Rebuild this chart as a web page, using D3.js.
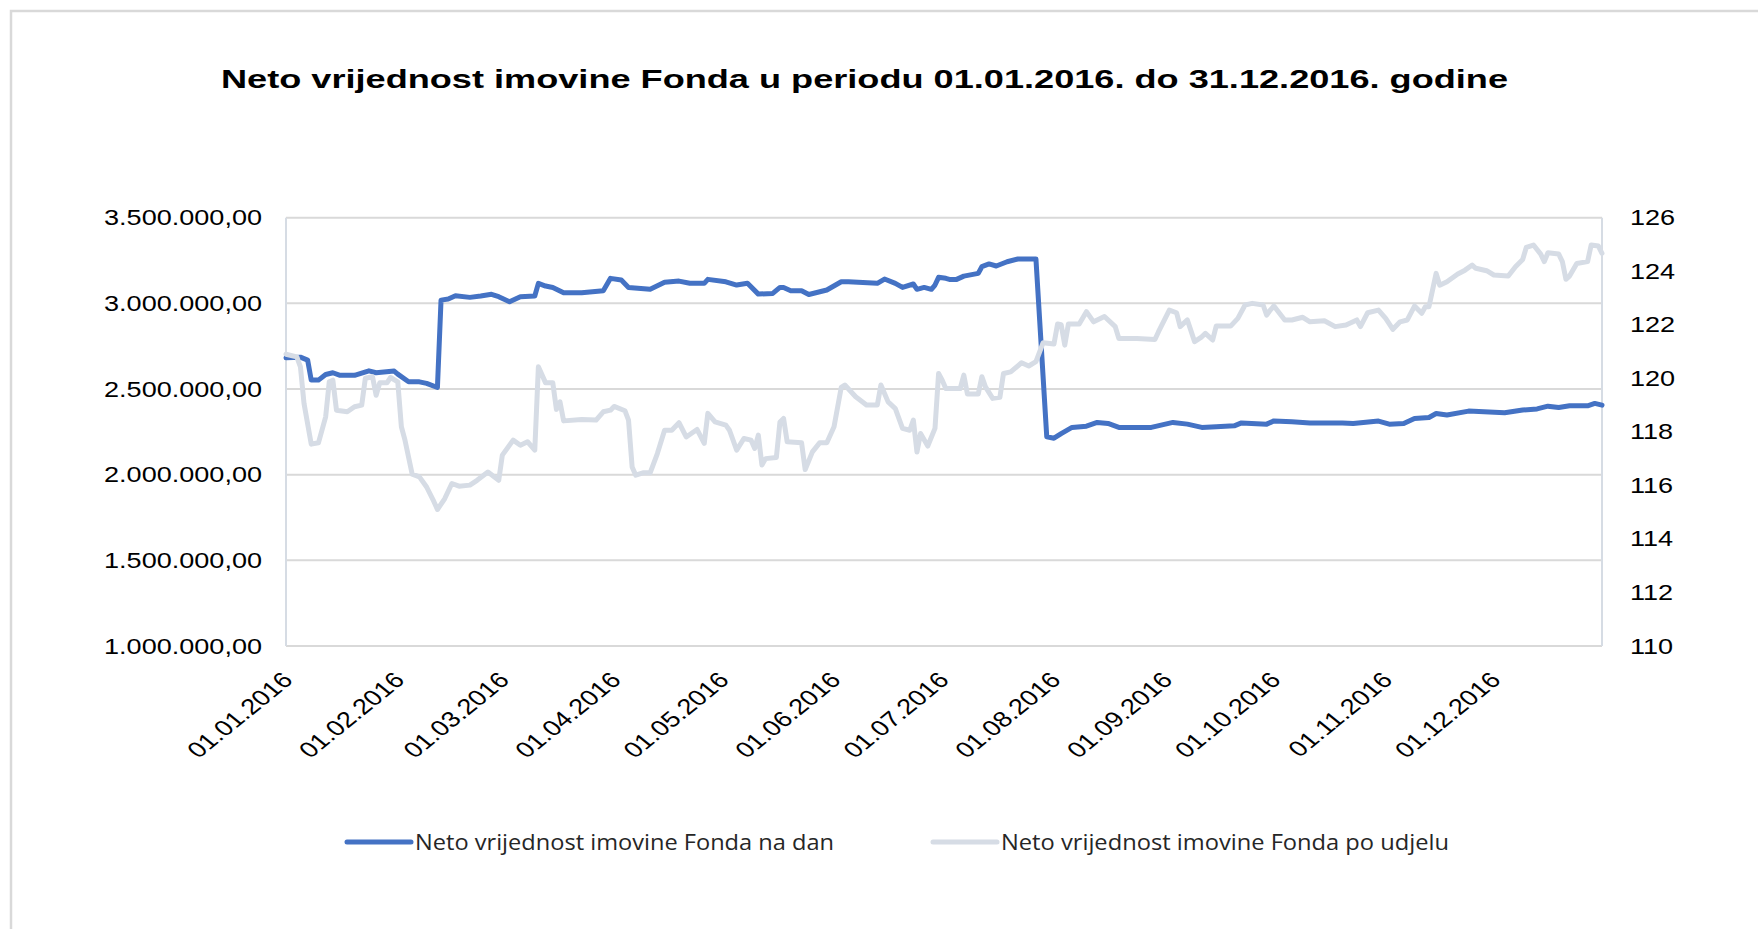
<!DOCTYPE html>
<html>
<head>
<meta charset="utf-8">
<script src="https://cdn.jsdelivr.net/npm/d3@7"></script>
<style>
  html, body { margin: 0; padding: 0; background: #fff; }
  svg { display: block; }
</style>
</head>
<body>
<div id="chart"></div>
<script>
const title = 'Neto vrijednost imovine Fonda u periodu 01.01.2016. do 31.12.2016. godine';
const seriesNames = ['Neto vrijednost imovine Fonda na dan', 'Neto vrijednost imovine Fonda po udjelu'];

const leftTicks = [1000000, 1500000, 2000000, 2500000, 3000000, 3500000];
const rightTicks = [110, 112, 114, 116, 118, 120, 122, 124, 126];
const monthTicks = ['01.01', '01.02', '01.03', '01.04', '01.05', '01.06',
  '01.07', '01.08', '01.09', '01.10', '01.11', '01.12'];

// neto vrijednost imovine (lijeva os)
const navDates = ['01.01', '05.01', '07.01', '08.01', '10.01', '12.01', '14.01', '16.01', '20.01', '24.01',
  '26.01', '31.01', '01.02', '04.02', '07.02', '09.02', '12.02', '13.02', '15.02', '17.02',
  '21.02', '24.02', '27.02', '29.02', '03.03', '06.03', '10.03', '11.03', '13.03', '15.03',
  '18.03', '23.03', '29.03', '31.03', '03.04', '05.04', '11.04', '15.04', '19.04', '22.04',
  '26.04', '27.04', '02.05', '05.05', '08.05', '11.05', '15.05', '17.05', '18.05', '20.05',
  '23.05', '25.05', '30.05', '03.06', '05.06', '13.06', '15.06', '18.06', '20.06', '23.06',
  '24.06', '26.06', '28.06', '29.06', '30.06', '02.07', '03.07', '05.07', '07.07', '11.07',
  '12.07', '14.07', '16.07', '19.07', '22.07', '25.07', '27.07', '30.07', '01.08', '03.08',
  '06.08', '10.08', '13.08', '16.08', '19.08', '25.08', '28.08', '03.09', '07.09', '11.09',
  '15.09', '20.09', '22.09', '29.09', '01.10', '06.10', '11.10', '20.10', '23.10', '30.10',
  '02.11', '06.11', '09.11', '13.11', '15.11', '18.11', '24.11', '04.12', '09.12', '13.12',
  '16.12', '19.12', '22.12', '27.12', '29.12', '31.12'];
const navValues = [2682000, 2686000, 2669000, 2552000, 2552000, 2585000, 2595000, 2580000, 2580000, 2606000,
  2595000, 2605000, 2587000, 2542000, 2542000, 2533000, 2509000, 3019000, 3025000, 3044000,
  3035000, 3043000, 3053000, 3039000, 3009000, 3039000, 3043000, 3117000, 3101000, 3093000,
  3062000, 3062000, 3074000, 3146000, 3136000, 3093000, 3082000, 3123000, 3130000, 3117000,
  3117000, 3140000, 3126000, 3107000, 3117000, 3054000, 3058000, 3093000, 3093000, 3074000,
  3074000, 3052000, 3078000, 3126000, 3126000, 3117000, 3142000, 3117000, 3093000, 3113000,
  3082000, 3093000, 3082000, 3107000, 3152000, 3146000, 3140000, 3140000, 3159000, 3175000,
  3214000, 3230000, 3218000, 3243000, 3259000, 3259000, 3259000, 2221000, 2213000, 2240000,
  2276000, 2283000, 2305000, 2299000, 2276000, 2276000, 2276000, 2305000, 2295000, 2276000,
  2280000, 2285000, 2302000, 2295000, 2314000, 2309000, 2302000, 2302000, 2299000, 2313000,
  2295000, 2299000, 2328000, 2334000, 2357000, 2348000, 2371000, 2361000, 2377000, 2384000,
  2400000, 2392000, 2402000, 2402000, 2416000, 2406000];

// vrijednost po udjelu (desna os)
const unitDates = ['01.01', '04.01', '05.01', '06.01', '08.01', '10.01', '12.01', '13.01', '14.01', '15.01',
  '18.01', '20.01', '22.01', '23.01', '25.01', '26.01', '27.01', '29.01', '30.01', '01.02',
  '02.02', '03.02', '05.02', '07.02', '09.02', '11.02', '12.02', '14.02', '16.02', '18.02',
  '21.02', '23.02', '26.02', '29.02', '01.03', '04.03', '06.03', '08.03', '10.03', '11.03',
  '13.03', '15.03', '16.03', '17.03', '18.03', '23.03', '27.03', '29.03', '31.03', '01.04',
  '04.04', '05.04', '06.04', '07.04', '09.04', '11.04', '13.04', '15.04', '17.04', '19.04',
  '21.04', '24.04', '26.04', '27.04', '29.04', '02.05', '03.05', '05.05', '07.05', '09.05',
  '10.05', '11.05', '12.05', '13.05', '16.05', '17.05', '18.05', '19.05', '23.05', '24.05',
  '26.05', '28.05', '30.05', '01.06', '03.06', '04.06', '07.06', '10.06', '13.06', '14.06',
  '16.06', '18.06', '20.06', '22.06', '23.06', '24.06', '25.06', '27.06', '29.06', '30.06',
  '01.07', '02.07', '06.07', '07.07', '08.07', '11.07', '12.07', '13.07', '15.07', '17.07',
  '18.07', '20.07', '23.07', '25.07', '27.07', '29.07', '01.08', '02.08', '03.08', '04.08',
  '05.08', '08.08', '10.08', '12.08', '15.08', '18.08', '19.08', '24.08', '29.08', '30.08',
  '02.09', '04.09', '05.09', '07.09', '09.09', '11.09', '12.09', '14.09', '15.09', '19.09',
  '21.09', '23.09', '25.09', '28.09', '29.09', '30.09', '01.10', '04.10', '06.10', '09.10',
  '11.10', '15.10', '18.10', '21.10', '24.10', '25.10', '27.10', '30.10', '01.11', '03.11',
  '05.11', '07.11', '09.11', '11.11', '12.11', '13.11', '15.11', '16.11', '18.11', '21.11',
  '23.11', '25.11', '26.11', '29.11', '01.12', '05.12', '07.12', '09.12', '10.12', '12.12',
  '14.12', '15.12', '16.12', '19.12', '20.12', '21.12', '22.12', '24.12', '27.12', '28.12',
  '30.12', '31.12'];
const unitValues = [120.90, 120.80, 120.43, 119.06, 117.54, 117.59, 118.56, 119.87, 119.93, 118.81,
  118.75, 118.94, 119.00, 120.00, 120.06, 119.37, 119.83, 119.83, 120.03, 119.87,
  118.19, 117.69, 116.42, 116.32, 115.94, 115.40, 115.10, 115.50, 116.07, 115.97,
  116.01, 116.19, 116.50, 116.19, 117.13, 117.69, 117.50, 117.63, 117.32, 120.43,
  119.83, 119.83, 118.84, 119.12, 118.41, 118.46, 118.44, 118.75, 118.81, 118.95,
  118.79, 118.44, 116.69, 116.38, 116.47, 116.47, 117.19, 118.06, 118.06, 118.34,
  117.81, 118.09, 117.57, 118.69, 118.37, 118.25, 118.06, 117.32, 117.75, 117.69,
  117.38, 117.88, 116.76, 117.00, 117.04, 118.37, 118.50, 117.63, 117.59, 116.59,
  117.25, 117.59, 117.59, 118.19, 119.66, 119.75, 119.31, 119.00, 119.00, 119.75,
  119.12, 118.87, 118.13, 118.06, 118.44, 117.25, 117.94, 117.47, 118.13, 120.18,
  119.93, 119.62, 119.62, 120.12, 119.41, 119.41, 120.06, 119.68, 119.25, 119.29,
  120.18, 120.24, 120.58, 120.46, 120.62, 121.33, 121.28, 122.03, 122.00, 121.24,
  122.03, 122.03, 122.49, 122.11, 122.31, 121.93, 121.49, 121.49, 121.45, 121.74,
  122.55, 122.45, 121.93, 122.18, 121.37, 121.55, 121.68, 121.43, 121.95, 121.95,
  122.24, 122.74, 122.80, 122.74, 122.36, 122.55, 122.70, 122.18, 122.18, 122.28,
  122.11, 122.15, 121.93, 121.99, 122.18, 121.93, 122.45, 122.55, 122.24, 121.83,
  122.11, 122.18, 122.70, 122.43, 122.67, 122.67, 123.92, 123.48, 123.61, 123.90,
  124.04, 124.23, 124.11, 124.02, 123.86, 123.82, 124.17, 124.44, 124.89, 124.98,
  124.64, 124.36, 124.69, 124.64, 124.36, 123.70, 123.82, 124.29, 124.36, 124.98,
  124.94, 124.67];

const W = 1758, H = 929;
const SX = 1.23; // original picture is stretched horizontally
const plot = { left: 286, right: 1602, top: 217.7, bottom: 646 };
const blue = '#4472c4', grey = '#d6dce5';

const parseDay = (s) => d3.timeParse('%d.%m.%Y')(s + '.2016');
const hr = d3.formatLocale({ decimal: ',', thousands: '.', grouping: [3], currency: ['', ''] });
const fmtLeft = hr.format(',.2f');

const x = d3.scaleTime()
  .domain([parseDay('01.01'), parseDay('31.12')])
  .range([plot.left, plot.right]);
const yL = d3.scaleLinear().domain([1000000, 3500000]).range([plot.bottom, plot.top]);
const yR = d3.scaleLinear().domain([110, 126]).range([plot.bottom, plot.top]);

const svg = d3.select('#chart').append('svg').attr('width', W).attr('height', H);

// okvir
svg.append('path')
  .attr('d', `M11,${H} V11 H${W}`)
  .attr('fill', 'none')
  .attr('stroke', '#d9d9d9')
  .attr('stroke-width', 2.5);

svg.append('text')
  .attr('x', 864.5)
  .attr('y', 88)
  .attr('text-anchor', 'middle')
  .attr('textLength', 1287)
  .attr('lengthAdjust', 'spacingAndGlyphs')
  .style('font-family', '"Liberation Sans", Arial, sans-serif')
  .style('font-weight', 'bold')
  .style('font-size', '26px')
  .style('fill', '#000')
  .text(title);

// mreža
svg.append('g')
  .selectAll('line')
  .data(leftTicks)
  .enter()
  .append('line')
  .attr('x1', plot.left)
  .attr('x2', plot.right)
  .attr('y1', (d) => yL(d))
  .attr('y2', (d) => yL(d))
  .attr('stroke', '#d9d9d9')
  .attr('stroke-width', 2);

svg.append('g')
  .selectAll('line')
  .data([plot.left, plot.right])
  .enter()
  .append('line')
  .attr('x1', (d) => d)
  .attr('x2', (d) => d)
  .attr('y1', plot.top)
  .attr('y2', plot.bottom)
  .attr('stroke', '#d6dce4')
  .attr('stroke-width', 2);

const tickFont = (sel) => sel
  .style('font-family', '"Liberation Sans", Arial, sans-serif')
  .style('font-size', '22px')
  .style('fill', '#000');

const axL = svg.append('g')
  .attr('transform', `translate(${plot.left},0)`)
  .call(d3.axisLeft(yL).tickValues(leftTicks).tickFormat(fmtLeft).tickSize(0));
axL.select('.domain').remove();
axL.selectAll('text')
  .attr('x', -24 / SX)
  .attr('transform', `scale(${SX},1)`)
  .call(tickFont);

const axR = svg.append('g')
  .attr('transform', `translate(${plot.right},0)`)
  .call(d3.axisRight(yR).tickValues(rightTicks).tickSize(0));
axR.select('.domain').remove();
axR.selectAll('text')
  .attr('x', 28 / SX)
  .attr('transform', `scale(${SX},1)`)
  .call(tickFont);

const axB = svg.append('g')
  .attr('transform', `translate(0,${plot.bottom})`)
  .call(d3.axisBottom(x)
    .tickValues(monthTicks.map(parseDay))
    .tickFormat(d3.timeFormat('%d.%m.%Y'))
    .tickSize(0));
axB.select('.domain').remove();
axB.selectAll('text')
  .attr('x', null)
  .attr('y', null)
  .attr('dy', '0.35em')
  .attr('text-anchor', 'end')
  .attr('transform', `translate(1,30) scale(${SX},1) rotate(-45)`)
  .call(tickFont);

// linije
const navLine = d3.line()
  .x((d, i) => x(parseDay(navDates[i])))
  .y((d) => yL(d));
const unitLine = d3.line()
  .x((d, i) => x(parseDay(unitDates[i])))
  .y((d) => yR(d));

svg.append('path')
  .datum(navValues)
  .attr('d', navLine)
  .attr('fill', 'none')
  .attr('stroke', blue)
  .attr('stroke-width', 5)
  .attr('stroke-linejoin', 'round')
  .attr('stroke-linecap', 'round');

svg.append('path')
  .datum(unitValues)
  .attr('d', unitLine)
  .attr('fill', 'none')
  .attr('stroke', grey)
  .attr('stroke-width', 5)
  .attr('stroke-linejoin', 'round')
  .attr('stroke-linecap', 'round');

// legenda
const legend = [
  { name: seriesNames[0], color: blue, x: 347, w: 419 },
  { name: seriesNames[1], color: grey, x: 933, w: 448 },
];
const lg = svg.append('g')
  .selectAll('g')
  .data(legend)
  .enter()
  .append('g')
  .attr('transform', (d) => `translate(${d.x},842)`);
lg.append('line')
  .attr('x1', 0)
  .attr('x2', 64)
  .attr('stroke', (d) => d.color)
  .attr('stroke-width', 5)
  .attr('stroke-linecap', 'round');
lg.append('text')
  .attr('x', 68)
  .attr('y', 8)
  .attr('textLength', (d) => d.w)
  .attr('lengthAdjust', 'spacingAndGlyphs')
  .style('font-family', '"Open Sans", sans-serif')
  .style('font-size', '21px')
  .style('fill', '#262626')
  .text((d) => d.name);
</script>
</body>
</html>
